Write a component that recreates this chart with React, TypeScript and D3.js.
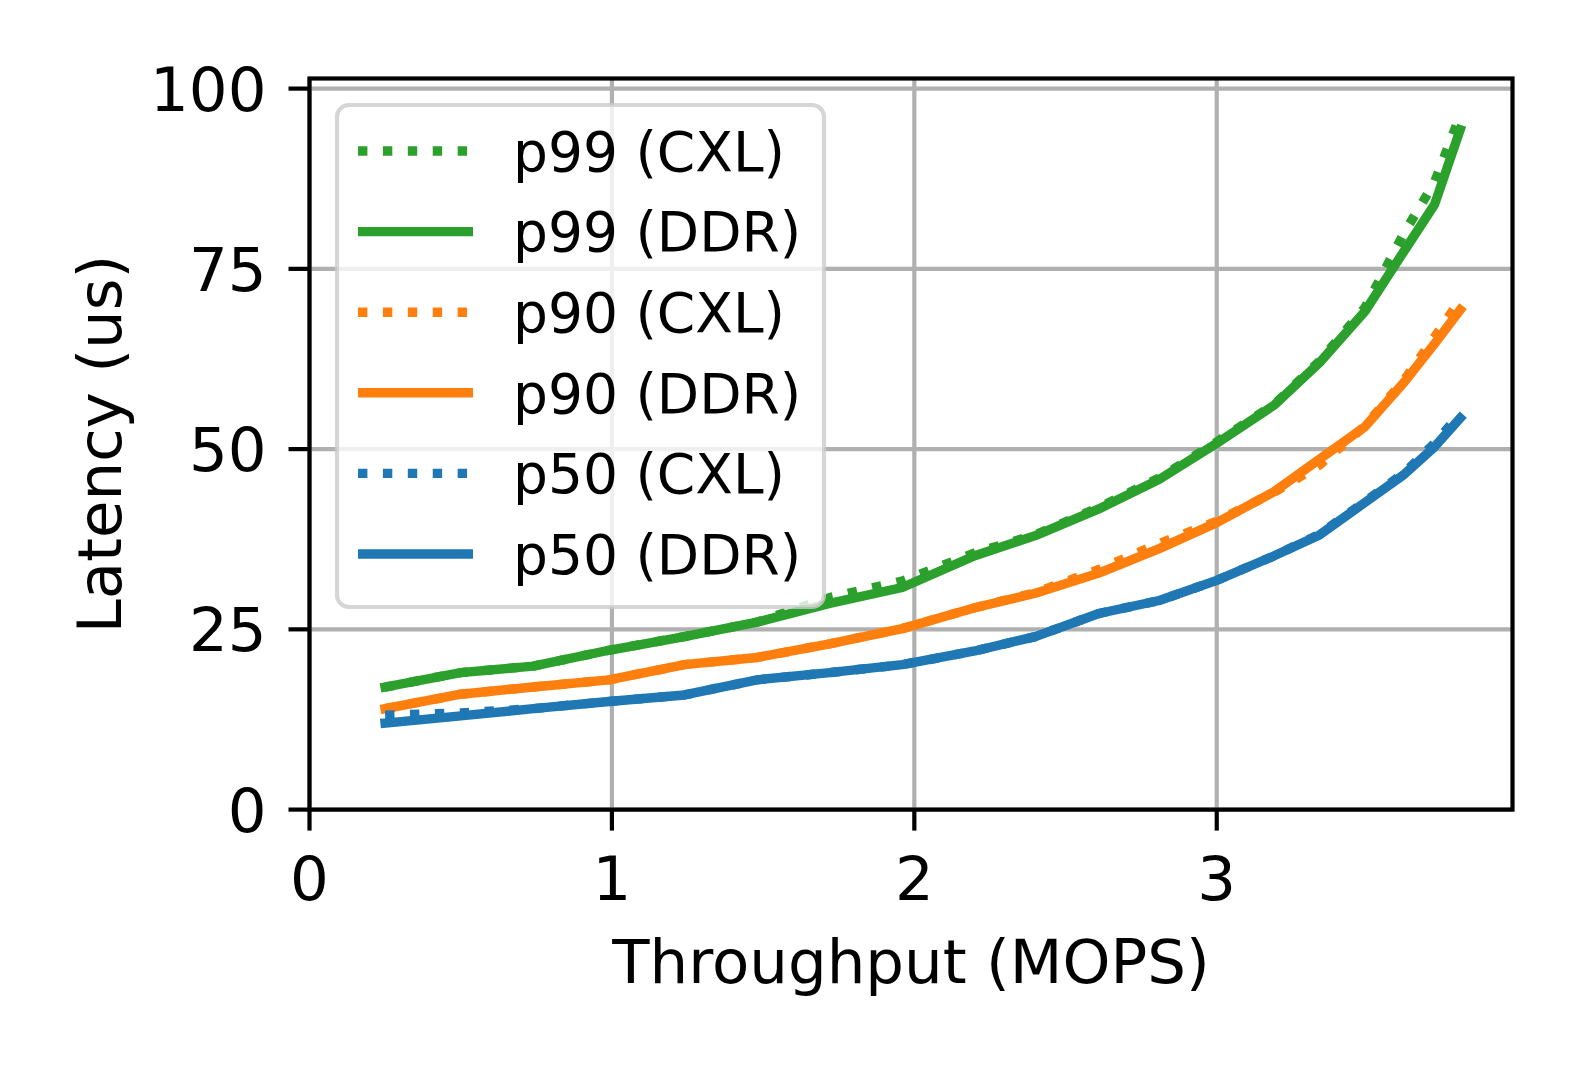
import React from "react";
import * as d3 from "d3";

const throughput = [0.25, 0.5, 0.74, 0.99, 1.24, 1.48, 1.72, 1.96, 2.2, 2.4, 2.61, 2.81, 3.0, 3.19, 3.34, 3.49, 3.62, 3.72, 3.805];

const p99CXL = [17, 19, 19.9, 22.1, 24, 26, 29.4, 31.7, 35.6, 38.1, 41.9, 46.0, 51.0, 56.2, 62.2, 69.6, 80.0, 87.0, 96.3];
const p99DDR = [17, 19, 19.9, 22.1, 24, 26, 28.6, 30.8, 35.2, 38, 41.7, 45.8, 50.8, 56.1, 62.0, 69.1, 77.5, 83.9, 94.3];
const p90CXL = [14, 16, 17, 18, 20.1, 21.1, 23, 25.1, 28, 30.1, 33.3, 36.9, 40.0, 44.0, 47.8, 53.2, 59.6, 65.5, 70.7];
const p90DDR = [14, 16, 17, 18, 20.1, 21.1, 23, 25.1, 28, 30, 32.8, 36.2, 39.8, 44.1, 48.6, 53.1, 59.3, 64.6, 69.3];
const p50CXL = [13.1, 13.4, 14, 15, 15.9, 18, 19, 20.1, 22, 24, 27.2, 29, 31.8, 35.2, 38.2, 42.7, 46.7, 50.8, 54.9];
const p50DDR = [12, 13, 14, 15, 15.9, 18, 19, 20.1, 22, 24, 27.2, 29, 31.8, 35.2, 38.1, 42.6, 46.5, 50.3, 54.3];

const xTicks = [0, 1, 2, 3];
const yTicks = [0, 25, 50, 75, 100];

const seriesNames = ["p99 (CXL)", "p99 (DDR)", "p90 (CXL)", "p90 (DDR)", "p50 (CXL)", "p50 (DDR)"];
const seriesValues = [p99CXL, p99DDR, p90CXL, p90DDR, p50CXL, p50DDR];
const seriesColors = ["#2ca02c", "#2ca02c", "#ff7f0e", "#ff7f0e", "#1f77b4", "#1f77b4"];
const seriesDotted = [true, false, true, false, true, false];

const W = 1579;
const H = 1066;
const left = 309.5;
const right = 1512.5;
const top = 78.5;
const bottom = 809.6;
const FONT = "'DejaVu Sans', sans-serif";
const LW = 9.4;
const TICK_FS = 61;
const LEG_FS = 55;

export default function App() {
  const x = d3.scaleLinear().domain([0, 3.978]).range([left, right]);
  const y = d3.scaleLinear().domain([0, 100]).range([bottom, 88.6]);
  const line = d3
    .line<number>()
    .x((_, i) => x(throughput[i]))
    .y((d) => y(d));

  const legendX = 337;
  const legendY = 105;
  const legendW = 487;
  const legendH = 502;
  const rowY0 = 151;
  const rowStep = 80.6;

  return (
    <svg
      width={W}
      height={H}
      style={{ position: "absolute", left: 0, top: 0, background: "#fff" }}
      fontFamily={FONT}
    >
      <rect x={0} y={0} width={W} height={H} fill="#fff" />
      {/* grid */}
      {xTicks.map((t) => (
        <line key={"gx" + t} x1={x(t)} x2={x(t)} y1={top} y2={bottom} stroke="#b0b0b0" strokeWidth={4.2} />
      ))}
      {yTicks.map((t) => (
        <line key={"gy" + t} x1={left} x2={right} y1={y(t)} y2={y(t)} stroke="#b0b0b0" strokeWidth={4.2} />
      ))}
      {/* lines */}
      {seriesValues.map((vals, i) => (
        <path
          key={"s" + i}
          d={line(vals) || ""}
          fill="none"
          stroke={seriesColors[i]}
          strokeWidth={LW}
          strokeDasharray={seriesDotted[i] ? `${LW} ${LW * 1.65}` : undefined}
          strokeLinecap={seriesDotted[i] ? "butt" : "square"}
          strokeLinejoin="round"
        />
      ))}
      {/* spines */}
      <rect x={left} y={top} width={right - left} height={bottom - top} fill="none" stroke="#000" strokeWidth={4.2} />
      {/* ticks */}
      {xTicks.map((t) => (
        <g key={"tx" + t}>
          <line x1={x(t)} x2={x(t)} y1={bottom} y2={bottom + 21} stroke="#000" strokeWidth={4.2} />
          <text x={x(t)} y={900} textAnchor="middle" fontSize={TICK_FS} fill="#000">
            {t}
          </text>
        </g>
      ))}
      {yTicks.map((t) => (
        <g key={"ty" + t}>
          <line x1={left - 21} x2={left} y1={y(t)} y2={y(t)} stroke="#000" strokeWidth={4.2} />
          <text x={left - 43} y={y(t)} dy="0.36em" textAnchor="end" fontSize={TICK_FS} fill="#000">
            {t}
          </text>
        </g>
      ))}
      {/* axis labels */}
      <text x={(left + right) / 2} y={983} textAnchor="middle" fontSize={TICK_FS} fill="#000">
        Throughput (MOPS)
      </text>
      <text
        transform={`translate(121, ${(top + bottom) / 2}) rotate(-90)`}
        textAnchor="middle"
        fontSize={TICK_FS}
        fill="#000"
      >
        Latency (us)
      </text>
      {/* legend */}
      <rect
        x={legendX}
        y={legendY}
        width={legendW}
        height={legendH}
        rx={12}
        ry={12}
        fill="#fff"
        fillOpacity={0.8}
        stroke="#cccccc"
        strokeOpacity={0.8}
        strokeWidth={4.2}
      />
      {seriesNames.map((name, i) => {
        const ry = rowY0 + i * rowStep;
        return (
          <g key={"lg" + i}>
            <line
              x1={358}
              x2={473}
              y1={ry}
              y2={ry}
              stroke={seriesColors[i]}
              strokeWidth={LW}
              strokeDasharray={seriesDotted[i] ? `${LW} ${LW * 1.65}` : undefined}
              strokeLinecap="butt"
            />
            <text x={513} y={ry} dy="0.36em" fontSize={LEG_FS} fill="#000">
              {name}
            </text>
          </g>
        );
      })}
    </svg>
  );
}
